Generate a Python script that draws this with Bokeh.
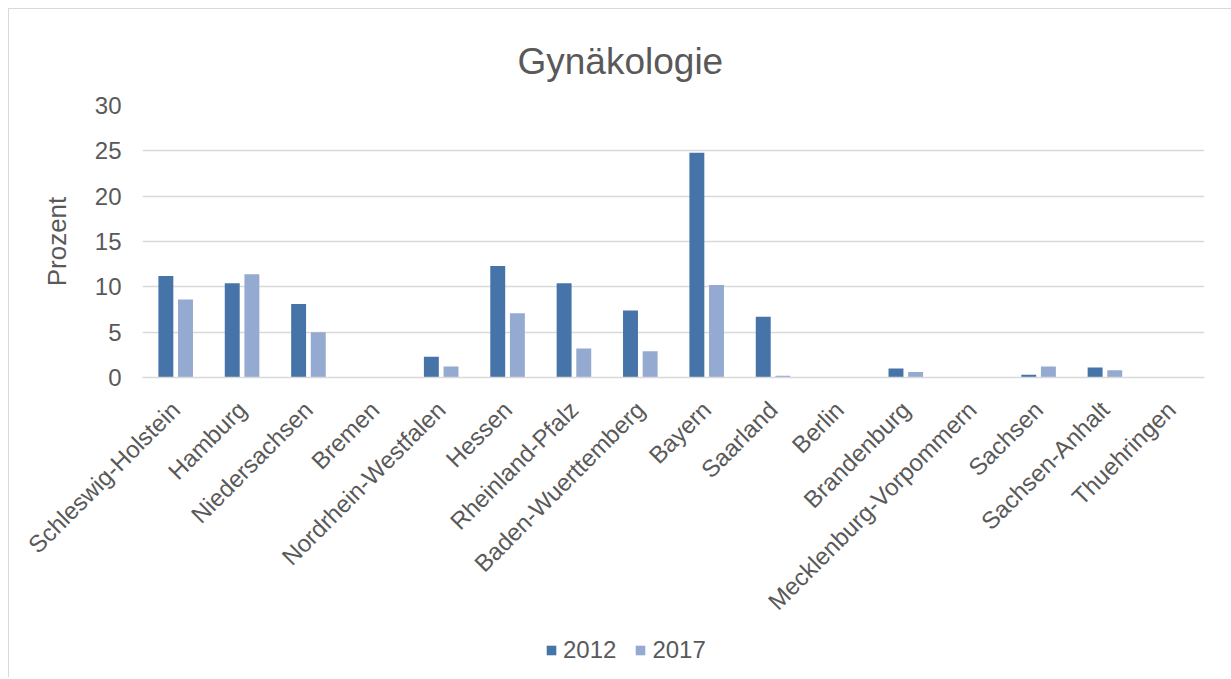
import math
from bokeh.plotting import figure
from bokeh.layouts import column
from bokeh.models import ColumnDataSource, FactorRange, Range1d, Legend, LegendItem, Title
from bokeh.transform import dodge
from bokeh.embed import file_html
from bokeh.resources import INLINE

states = ["Schleswig-Holstein", "Hamburg", "Niedersachsen", "Bremen", "Nordrhein-Westfalen",
          "Hessen", "Rheinland-Pfalz", "Baden-Wuerttemberg", "Bayern", "Saarland", "Berlin",
          "Brandenburg", "Mecklenburg-Vorpommern", "Sachsen", "Sachsen-Anhalt", "Thuehringen"]
v2012 = [11.2, 10.4, 8.1, 0.0, 2.3, 12.3, 10.4, 7.4, 24.8, 6.7, 0.0, 1.0, 0.0, 0.3, 1.1, 0.0]
v2017 = [8.6, 11.4, 5.0, 0.0, 1.2, 7.1, 3.2, 2.9, 10.2, 0.2, 0.0, 0.6, 0.0, 1.2, 0.8, 0.0]
years = ["2012", "2017"]
yticks = [0, 5, 10, 15, 20, 25, 30]

FONT = "Liberation Sans"
TXT = "#595959"
C1 = "#4674A9"
C2 = "#95AAD1"

src = ColumnDataSource(dict(state=states, a=v2012, b=v2017))

p = figure(x_range=FactorRange(*states), y_range=Range1d(0, 30),
           width=1222, height=621, output_backend="svg", toolbar_location=None,
           min_border_left=133, min_border_right=27, min_border_top=96, min_border_bottom=253)

p.title = Title(text="Gynäkologie", align="left", offset=375, text_font=FONT,
                text_font_size="37px", text_font_style="normal", text_color=TXT, standoff=48)

p.vbar(x=dodge("state", -0.148, range=p.x_range), top="a", width=0.225, source=src,
       fill_color=C1, line_color=None)
p.vbar(x=dodge("state", 0.148, range=p.x_range), top="b", width=0.225, source=src,
       fill_color=C2, line_color=None)

p.outline_line_color = None
p.xgrid.grid_line_color = None
p.ygrid.grid_line_color = "#D9D9D9"
p.ygrid.grid_line_width = 1.5
p.yaxis.ticker = yticks

p.yaxis.axis_line_color = None
p.yaxis.major_tick_line_color = None
p.yaxis.minor_tick_line_color = None
p.yaxis.major_label_standoff = 15
p.yaxis.major_label_text_font = FONT
p.yaxis.major_label_text_font_size = "24px"
p.yaxis.major_label_text_color = TXT
p.yaxis.axis_label = "Prozent"
p.yaxis.axis_label_text_font = FONT
p.yaxis.axis_label_text_font_size = "26px"
p.yaxis.axis_label_text_font_style = "normal"
p.yaxis.axis_label_text_color = TXT
p.yaxis.axis_label_standoff = 20

p.xaxis.axis_line_color = "#D9D9D9"
p.xaxis.axis_line_width = 1.5
p.xaxis.major_tick_line_color = None
p.xaxis.minor_tick_line_color = None
p.xaxis.major_label_orientation = math.pi / 4
p.xaxis.major_label_standoff = 22
p.xaxis.major_label_text_font = FONT
p.xaxis.major_label_text_font_size = "24px"
p.xaxis.major_label_text_color = TXT

# legend strip below the chart (helper bars have zero height, only feed the legend)
pl = figure(width=1222, height=47, x_range=Range1d(0, 1), y_range=Range1d(0, 1),
            x_axis_type=None, y_axis_type=None, output_backend="svg", toolbar_location=None,
            min_border=0)
pl.outline_line_color = None
lr1 = pl.vbar(x=[0.5], top=[0], bottom=[0], width=0.001, fill_color=C1, line_color=None)
lr2 = pl.vbar(x=[0.5], top=[0], bottom=[0], width=0.001, fill_color=C2, line_color=None)
legend = Legend(items=[LegendItem(label=years[0], renderers=[lr1]),
                       LegendItem(label=years[1], renderers=[lr2])],
                orientation="horizontal", location=(403, 13),
                glyph_width=12, glyph_height=12, label_standoff=6, spacing=18,
                padding=0, margin=0, border_line_color=None, background_fill_alpha=0,
                label_text_font=FONT, label_text_font_size="24px", label_text_color=TXT)
pl.add_layout(legend, "center")

layout = column(p, pl, spacing=0)
layout.styles = {"margin-left": "8px", "margin-top": "8px",
                 "border-left": "1px solid #D9D9D9", "border-top": "1px solid #D9D9D9"}
open("out.html", "w").write(file_html(layout, INLINE))
